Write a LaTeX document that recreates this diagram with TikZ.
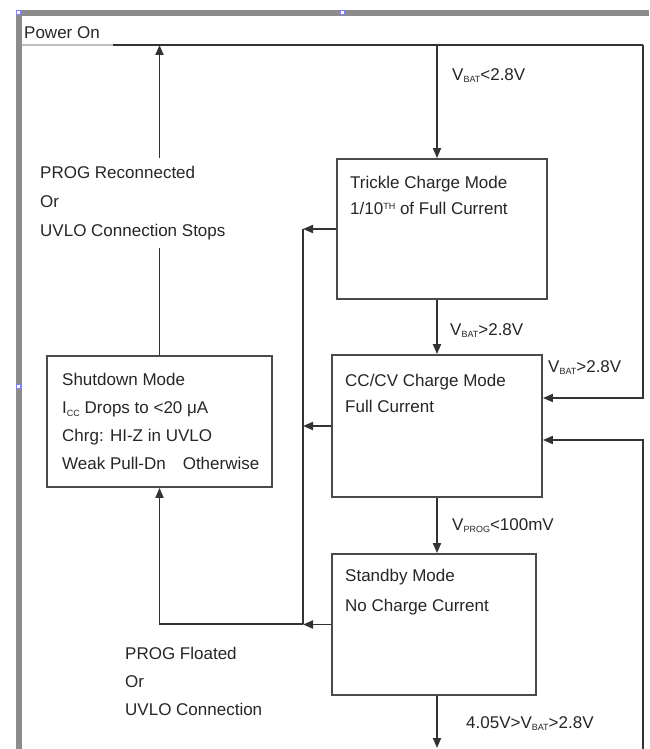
\documentclass[tikz,border=0pt]{standalone}
\usepackage{fontspec}
\setmainfont{Liberation Sans}
\usetikzlibrary{arrows.meta}
\definecolor{linec}{HTML}{333333}
\definecolor{boxc}{HTML}{4A4A4A}
\definecolor{framec}{HTML}{8C8C8C}
\newcommand{\lsub}[1]{\raisebox{-2.5pt}{\fontsize{9}{9}\selectfont #1}}
\newcommand{\lsup}[1]{\raisebox{5pt}{\fontsize{9}{9}\selectfont #1}}
\begin{document}
\begin{tikzpicture}[x=1pt,y=-1pt,
  modebox/.style={draw=boxc, line width=1.8pt, inner sep=0pt, fill=white},
  conn/.style={draw=linec, line width=1.8pt},
  arr/.style={conn, -{Triangle[length=10pt,width=8pt]}},
  txt/.style={inner sep=0pt, anchor=north west, align=left, text=black!85},
  handle/.style={draw=blue!50, fill=white, line width=0.6pt, minimum size=4pt, inner sep=0pt}]
\useasboundingbox[fill=white] (0,0) rectangle (649,749);
% frame bars
\fill[framec] (16,10) rectangle (649,16);
\fill[framec] (16,10) rectangle (22,749);
\node[handle] (h1) at (18,12) {};
\node[handle] (h2) at (342,12) {};
\node[handle] (h3) at (18,386) {};
% Power On
\node[txt, font=\fontsize{17}{20}\selectfont] (pon) at (24,26) {Power On};
\draw[black!25, line width=1.2pt] (22,45) -- (113,45);
% coordinates
\coordinate (tl) at (113,45);
\coordinate (tr) at (643,45);
\coordinate (ptop) at (437,45);
\coordinate (bot) at (437,748);
\coordinate (colT) at (303,229);
\coordinate (colB) at (303,624);
\coordinate (r1) at (643,398);
\coordinate (r2) at (643,440);
\coordinate (rb) at (643,749);
% mode boxes
\node[modebox, minimum width=210pt, minimum height=140pt] (trickle) at (442,229) {};
\node[modebox, minimum width=210pt, minimum height=142pt] (cccv) at (437,426) {};
\node[modebox, minimum width=204pt, minimum height=141pt] (standby) at (434,624.5) {};
\node[modebox, minimum width=225pt, minimum height=131pt] (shutdown) at (159.5,421.5) {};
% connectors
\draw[conn] (tl) -- (tr);
\draw[arr] (ptop) -- (ptop |- trickle.north);
\draw[arr] (trickle.south -| ptop) -- (cccv.north -| ptop);
\draw[arr] (cccv.south -| ptop) -- (standby.north -| ptop);
\draw[arr] (standby.south -| ptop) -- (bot);
\draw[arr] (trickle.west) -- (trickle.west -| colT);
\draw[arr] (cccv.west) -- (cccv.west -| colT);
\draw[arr] (standby.west) -- (standby.west -| colT);
\draw[conn] (colT) -- (colB);
\draw[arr] (colB) -- (colB -| shutdown.south) -- (shutdown.south);
\draw[arr] (shutdown.north) -- (shutdown.north |- tl);
\draw[arr] (tr) -- (r1) -- (r1 -| cccv.east);
\draw[arr] (rb) -- (r2) -- (r2 -| cccv.east);
% box texts
\node[txt, font=\fontsize{17}{26}\selectfont] (ttrickle) at (350,176) {Trickle Charge Mode\\1/10\lsup{TH} of Full Current};
\node[txt, font=\fontsize{17}{26}\selectfont] (tcccv) at (345,374) {CC/CV Charge Mode\\Full Current};
\node[txt, font=\fontsize{17}{30}\selectfont] (tstandby) at (345,569) {Standby Mode\\No Charge Current};
\node[txt, font=\fontsize{17}{28}\selectfont] (tshutdown) at (62,373) {Shutdown Mode\\I\lsub{CC} Drops to {<}20 μA\\Chrg: HI-Z in UVLO\\Weak Pull-Dn\quad Otherwise};
% side labels
\node[txt, font=\fontsize{17}{29}\selectfont, fill=white, inner xsep=0pt, inner ysep=8pt] (lrec) at (40,158) {PROG Reconnected\\Or\\UVLO Connection Stops};
\node[txt, font=\fontsize{17}{28}\selectfont] (lflo) at (125,647) {PROG Floated\\Or\\UVLO Connection};
% condition labels
\node[txt, font=\fontsize{17}{20}\selectfont] (c1) at (452,68) {V\lsub{BAT}{<}2.8V};
\node[txt, font=\fontsize{17}{20}\selectfont] (c2) at (450,323) {V\lsub{BAT}{>}2.8V};
\node[txt, font=\fontsize{17}{20}\selectfont] (c3) at (548,360) {V\lsub{BAT}{>}2.8V};
\node[txt, font=\fontsize{17}{20}\selectfont] (c4) at (452,518) {V\lsub{PROG}{<}100mV};
\node[txt, font=\fontsize{17}{20}\selectfont] (c5) at (466,716) {4.05V{>}V\lsub{BAT}{>}2.8V};
\end{tikzpicture}
\end{document}
